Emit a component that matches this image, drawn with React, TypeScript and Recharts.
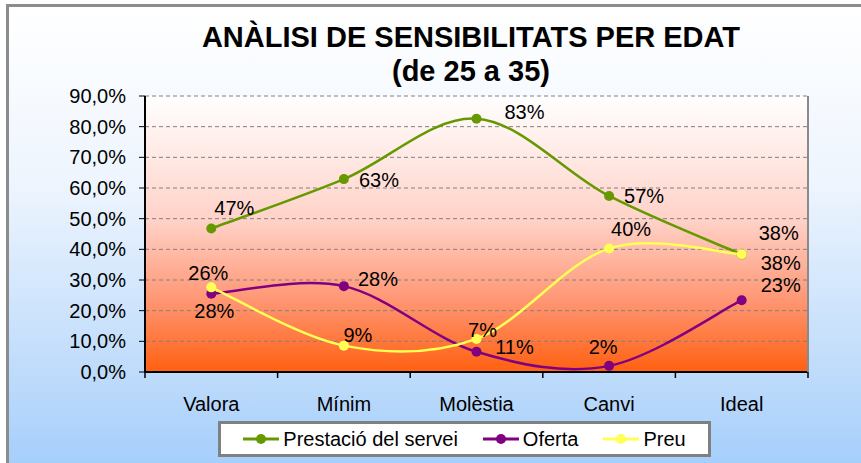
import React from 'react';
import { LineChart, Line, XAxis, YAxis, CartesianGrid, Legend, LabelList } from 'recharts';

const categories = ['Valora', 'Mínim', 'Molèstia', 'Canvi', 'Ideal'];
const seriesNames = ['Prestació del servei', 'Oferta', 'Preu'];
const prestacio = [46.8, 62.9, 82.6, 57.4, 38.3];
const oferta = [25.5, 28.0, 6.6, 2.0, 23.4];
const preu = [27.6, 8.6, 10.8, 40.3, 38.4];
const yTicks = [0, 10, 20, 30, 40, 50, 60, 70, 80, 90];

const FONT = '"Liberation Sans", Arial, sans-serif';

// label placement (dx, dy from the point), moved by hand as in the original sheet
const prestacioLabelPos = [[23, -20], [35, 1], [48, -7], [35, 0], [37, -22]];
const ofertaLabelPos = [[-3, -21], [34, -7], [6, -22], [-6, -19], [39, -15]];
const preuLabelPos = [[3, 24], [14, -11], [38, 8], [22, -19], [39, 9]];

const data = categories.map((cat, i) => ({
  cat,
  pos: i + 0.5,
  prestacio: prestacio[i],
  oferta: oferta[i],
  preu: preu[i],
}));

const xTicks = [0, 0.5, 1, 1.5, 2, 2.5, 3, 3.5, 4, 4.5, 5];

// Excel-like smoothed line (Catmull-Rom through the points)
const excelSmooth = (context: any) => {
  let pts: number[][] = [];
  return {
    areaStart() {},
    areaEnd() {},
    lineStart() {
      pts = [];
    },
    lineEnd() {
      if (!pts.length) return;
      context.moveTo(pts[0][0], pts[0][1]);
      for (let i = 0; i < pts.length - 1; i++) {
        const p0 = pts[Math.max(0, i - 1)];
        const p1 = pts[i];
        const p2 = pts[i + 1];
        const p3 = pts[Math.min(pts.length - 1, i + 2)];
        context.bezierCurveTo(
          p1[0] + (p2[0] - p0[0]) / 6,
          p1[1] + (p2[1] - p0[1]) / 6,
          p2[0] - (p3[0] - p1[0]) / 6,
          p2[1] - (p3[1] - p1[1]) / 6,
          p2[0],
          p2[1]
        );
      }
    },
    point(x: number, y: number) {
      pts.push([+x, +y]);
    },
  };
};

const XTick = (props: any) => {
  const { x, y, payload } = props;
  const v = payload.value;
  if (Number.isInteger(v)) {
    return <line x1={x} x2={x} y1={y - 6} y2={y} stroke="#000" strokeWidth={1.5} />;
  }
  return (
    <text x={x} y={y} dy={33} textAnchor="middle" fill="#000" fontSize={20} fontFamily={FONT}>
      {categories[Math.floor(v)]}
    </text>
  );
};

const makeLabel = (offsets: number[][]) => (props: any) => {
  const { x, y, value, index } = props;
  const [dx, dy] = offsets[index];
  return (
    <text
      x={x + dx}
      y={y + dy}
      textAnchor="middle"
      dominantBaseline="central"
      fill="#000"
      fontSize={20}
      fontFamily={FONT}
    >
      {Math.round(value)}%
    </text>
  );
};

const LegendBox = ({ payload }: any) => {
  const items = seriesNames
    .map((n) => (payload || []).find((p: any) => p.value === n))
    .filter(Boolean);
  return (
    <div
      style={{
        boxSizing: 'border-box',
        width: 493,
        height: 36,
        border: '3px solid #808080',
        background: '#fff',
        display: 'flex',
        alignItems: 'center',
        justifyContent: 'center',
        fontFamily: FONT,
        fontSize: 20,
        color: '#000',
      }}
    >
      {items.map((p: any, i: number) => (
        <div key={p.value} style={{ display: 'flex', alignItems: 'center', marginLeft: i === 0 ? 0 : 25 }}>
          <svg width={36} height={12} style={{ marginRight: 4 }}>
            <line x1={0} x2={36} y1={6} y2={6} stroke={p.color} strokeWidth={3} />
            <circle cx={18} cy={6} r={5} fill={p.color} />
          </svg>
          <span>{p.value}</span>
        </div>
      ))}
    </div>
  );
};

export default function App() {
  return (
    <div style={{ position: 'absolute', left: 0, top: 0, width: 861, height: 463, overflow: 'hidden' }}>
      <svg width={0} height={0} style={{ position: 'absolute' }}>
        <defs>
          <linearGradient id="plotBg" x1="0" y1="0" x2="0" y2="1">
            <stop offset="0%" stopColor="#ffffff" />
            <stop offset="45%" stopColor="#ffd2c8" />
            <stop offset="75%" stopColor="#ff9470" />
            <stop offset="100%" stopColor="#ff6010" />
          </linearGradient>
        </defs>
      </svg>
      <div
        style={{
          position: 'absolute',
          left: 6,
          top: 4,
          width: 900,
          height: 500,
          borderTop: '3px solid #8c8c8c',
          borderLeft: '3px solid #8c8c8c',
          background: 'linear-gradient(to bottom, #ffffff 0%, #eef5fe 35%, #bcdafb 75%, #99c9fc 100%)',
        }}
      />
      <div
        style={{
          position: 'absolute',
          left: 171,
          top: 20,
          width: 600,
          textAlign: 'center',
          fontFamily: FONT,
          fontWeight: 'bold',
          fontSize: 29,
          lineHeight: '34px',
          color: '#000',
        }}
      >
        ANÀLISI DE SENSIBILITATS PER EDAT
        <br />
        (de 25 a 35)
      </div>
      <div style={{ position: 'absolute', left: 0, top: 0 }}>
        <LineChart width={861} height={463} data={data} margin={{ top: 96, right: 52, bottom: 0, left: 0 }}>
          <CartesianGrid
            vertical={false}
            stroke="#808080"
            strokeDasharray="4 3"
            fill="url(#plotBg)"
            fillOpacity={1}
          />
          <XAxis
            dataKey="pos"
            type="number"
            domain={[0, 5]}
            ticks={xTicks}
            interval={0}
            height={55}
            tickSize={6}
            tickMargin={0}
            tickLine={false}
            axisLine={{ stroke: '#000', strokeWidth: 2 }}
            tick={<XTick />}
          />
          <YAxis
            domain={[0, 90]}
            ticks={yTicks}
            interval={0}
            width={145}
            tickSize={6}
            tickMargin={13}
            tickLine={{ stroke: '#000' }}
            axisLine={{ stroke: '#000', strokeWidth: 2 }}
            tick={{ fill: '#000', fontSize: 20, fontFamily: FONT }}
            tickFormatter={(v: number) => v.toFixed(1).replace('.', ',') + '%'}
          />
          <YAxis
            yAxisId="r"
            orientation="right"
            domain={[0, 1]}
            width={1}
            tick={false}
            tickLine={false}
            axisLine={{ stroke: '#8a8a8a', strokeWidth: 2 }}
          />
          <Legend
            verticalAlign="bottom"
            content={<LegendBox />}
            wrapperStyle={{ position: 'absolute', left: 218, top: 421, width: 493, height: 36 }}
          />
          <Line
            name={seriesNames[0]}
            dataKey="prestacio"
            type={excelSmooth as any}
            stroke="#669900"
            strokeWidth={2.5}
            dot={{ r: 5, fill: '#669900', stroke: '#669900', strokeWidth: 0 }}
            activeDot={false}
            isAnimationActive={false}
          >
            <LabelList dataKey="prestacio" content={makeLabel(prestacioLabelPos)} />
          </Line>
          <Line
            name={seriesNames[1]}
            dataKey="oferta"
            type={excelSmooth as any}
            stroke="#800080"
            strokeWidth={2.5}
            dot={{ r: 5, fill: '#800080', stroke: '#800080', strokeWidth: 0 }}
            activeDot={false}
            isAnimationActive={false}
          >
            <LabelList dataKey="oferta" content={makeLabel(ofertaLabelPos)} />
          </Line>
          <Line
            name={seriesNames[2]}
            dataKey="preu"
            type={excelSmooth as any}
            stroke="#ffff55"
            strokeWidth={2.5}
            dot={{ r: 5, fill: '#ffff55', stroke: '#ffff55', strokeWidth: 0 }}
            activeDot={false}
            isAnimationActive={false}
          >
            <LabelList dataKey="preu" content={makeLabel(preuLabelPos)} />
          </Line>
        </LineChart>
      </div>
    </div>
  );
}
